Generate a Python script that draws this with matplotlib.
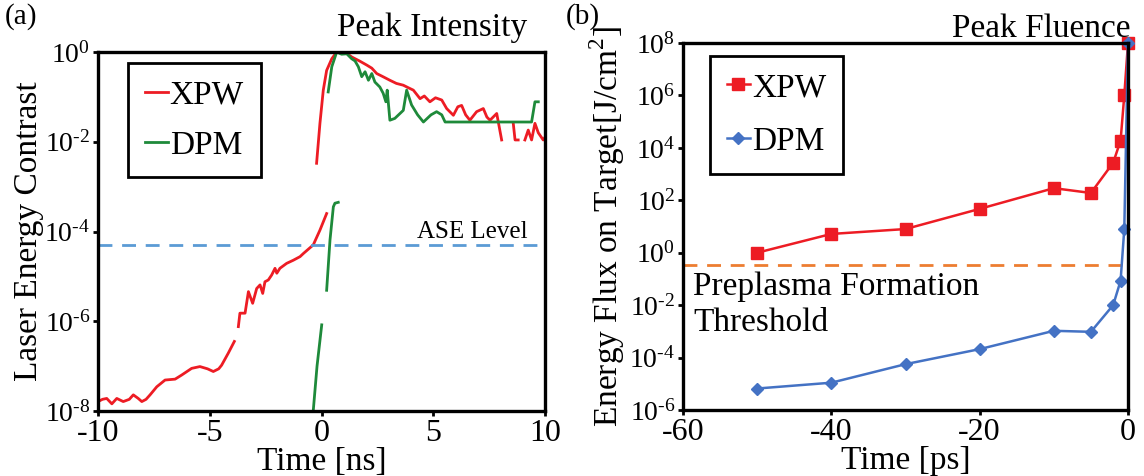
import numpy as np
import matplotlib
matplotlib.use('Agg')
import matplotlib.pyplot as plt
from matplotlib.ticker import NullLocator, FuncFormatter

plt.rcParams['font.family'] = 'Liberation Serif'
plt.rcParams['mathtext.fontset'] = 'custom'
plt.rcParams['mathtext.rm'] = 'Liberation Serif'
plt.rcParams['axes.unicode_minus'] = False

# (a) laser contrast, time in ns, values as log10(contrast); nan = gap in trace
xpw_t = [-10, -9.8, -9.61, -9.38, -9.16, -8.87, -8.6, -8.42, -8.2, -8.04, -7.85, -7.67,
         -7.37, -7.0, -6.55, -6.26, -5.81, -5.44, -5.1, -4.84, -4.6, -4.47, -4.17, -3.9,
         np.nan,
         -3.72, -3.65, -3.42, -3.27, -3.08, -2.90, -2.75, -2.63, -2.53, -2.38, -2.23, -2.08,
         -2.0, -1.86, -1.56, -1.26, -0.96, -0.81, -0.51, -0.37, -0.07, 0.23,
         np.nan,
         -0.22, -0.07, 0.08, 0.23, 0.46, 0.68, 1.05, 1.35, 1.7, 2.02, 2.25, 2.47, 2.75,
         3.06, 3.35, 3.66, 3.9, 4.11, 4.41, 4.6, 4.85, 5.1, 5.38, 5.6, 5.9, 6.1, 6.27,
         6.45, 6.64, 6.94, 7.24, 7.4, 7.54, 7.84, 8.06,
         np.nan,
         8.58, 8.66, 8.8,
         np.nan,
         9.1, 9.25, 9.4, 9.55, 9.7, 9.92, 10]
xpw_log = [-7.79, -7.74, -7.72, -7.84, -7.72, -7.79, -7.74, -7.64, -7.72, -7.79, -7.74, -7.64,
           -7.46, -7.31, -7.29, -7.20, -7.05, -7.01, -7.06, -7.12, -7.06, -6.98, -6.71, -6.45,
           np.nan,
           -6.12, -5.82, -5.82, -5.34, -5.60, -5.27, -5.19, -5.38, -5.12, -5.08, -4.97, -4.82,
           -4.93, -4.82, -4.71, -4.64, -4.56, -4.49, -4.36, -4.30, -3.97, -3.60,
           np.nan,
           -2.48, -1.59, -0.85, -0.41, -0.15, 0.0, 0.0, -0.11, -0.2, -0.29, -0.36, -0.48, -0.55,
           -0.63, -0.7, -0.74, -0.8, -0.85, -1.04, -0.98, -1.11, -1.02, -1.07, -1.26, -1.41, -1.22, -1.19,
           -1.4, -1.52, -1.33, -1.26, -1.45, -1.52, -1.37, -1.96,
           np.nan,
           -1.59, -1.96, -1.96,
           np.nan,
           -1.96, -1.74, -1.96, -1.59, -1.8, -1.96, -1.9]

dpm_t = [-0.37, -0.2, 0.01,
         np.nan,
         0.23, 0.38, 0.53, 0.6, 0.75,
         np.nan,
         0.30, 0.46, 0.68, 0.9, 1.13, 1.35, 1.5, 1.65, 1.8, 1.95, 2.10, 2.25, 2.39, 2.61,
         2.76, 2.88, 2.94, 3.06, 3.28, 3.66, 3.81, 4.03, 4.3, 4.56, 4.9, 5.15, 5.38, 5.53,
         9.4, 9.55, 9.7]
dpm_log = [-8.0, -7.0, -6.08,
           np.nan,
           -5.31, -4.19, -3.45, -3.37, -3.35,
           np.nan,
           -0.89, -0.33, 0.0, -0.05, -0.04, -0.15, -0.2, -0.33, -0.55, -0.44, -0.63, -0.48, -0.67, -0.78,
           -0.92, -1.11, -0.85, -1.52, -1.48, -1.3, -0.85, -1.18, -1.4, -1.56, -1.4, -1.33, -1.4, -1.56,
           -1.56, -1.11, -1.11]

ase_level = 5e-5

# (b) energy flux on target, time in ps
flux_t = [-50, -40, -30, -20, -10, -5, -2, -1, -0.5, 0]
xpw_flux = [1.0, 5.2, 8, 47, 290, 190, 2700, 1.9e4, 1e6, 1e8]
dpm_flux = [6.6e-6, 1.1e-5, 5.6e-5, 2.1e-4, 1.05e-3, 9.6e-4, 1e-2, 8.5e-2, 8, 1e8]
threshold = 0.35


def pow10(v, pos):
    # plain hyphen in the exponent, like the original figure
    e = str(int(round(np.log10(v)))).replace('-', '\u2010')
    return r'$\mathdefault{10^{%s}}$' % e


W, H = 1144, 476
fig = plt.figure(figsize=(W / 100, H / 100), dpi=100)
ax1 = fig.add_axes([98 / W, (H - 411) / H, 447 / W, 359 / H])
ax2 = fig.add_axes([683 / W, (H - 410) / H, 445 / W, 367 / H])

red = '#ed1c24'
green = '#1e8a3a'
blue = '#4472c4'

# panel (a)
ax1.plot(xpw_t, np.power(10.0, xpw_log), color=red, lw=2, label='XPW')
ax1.plot(dpm_t, np.power(10.0, dpm_log), color=green, lw=2, label='DPM')
ax1.axhline(ase_level, color='#5b9bd5', lw=2, dashes=(5, 3.5))
ax1.text(9.24, 7e-5, 'ASE Level', fontsize=18, ha='right', va='baseline')
ax1.set_yscale('log')
ax1.set_xlim(-10, 10)
ax1.set_ylim(1e-8, 1)
ax1.set_xticks([-10, -5, 0, 5, 10])
ax1.set_yticks([1e-8, 1e-6, 1e-4, 1e-2, 1])
ax1.set_xlabel('Time [ns]', fontsize=24, labelpad=-1)
ax1.set_ylabel('Laser Energy Contrast', fontsize=24, labelpad=0)
ax1.legend(loc='upper left', bbox_to_anchor=(0.067, 0.969), borderaxespad=0,
           fontsize=24, fancybox=False, edgecolor='black', framealpha=1,
           handlelength=0.7, handletextpad=0.05, borderpad=0.5, labelspacing=0.6)
ax1.get_legend().get_frame().set_linewidth(2)

# panel (b)
ax2.plot(flux_t, xpw_flux, color=red, lw=1.8, marker='s', ms=8.5, label='XPW', clip_on=False)
ax2.plot(flux_t, dpm_flux, color=blue, lw=1.8, marker='D', ms=6, label='DPM', clip_on=False)
ax2.axhline(threshold, color='#ed7d31', lw=2, dashes=(5, 3.5), zorder=1)
ax2.text(-58.65, 0.2, 'Preplasma Formation\nThreshold', fontsize=24, ha='left', va='top',
         linespacing=1.25)
ax2.set_yscale('log')
ax2.set_xlim(-60, 0)
ax2.set_ylim(1e-6, 1e8)
ax2.set_xticks([-60, -40, -20, 0])
ax2.set_yticks([1e-6, 1e-4, 1e-2, 1, 1e2, 1e4, 1e6, 1e8])
ax2.set_xlabel('Time [ps]', fontsize=24, labelpad=-1)
ax2.set_ylabel('Energy Flux on Target[J/cm$^2$]', fontsize=24, labelpad=2)
ax2.legend(loc='upper left', bbox_to_anchor=(0.061, 0.965), borderaxespad=0,
           fontsize=24, fancybox=False, edgecolor='black', framealpha=1, numpoints=1,
           handlelength=0.7, handletextpad=0.05, borderpad=0.5, labelspacing=0.7)
ax2.get_legend().get_frame().set_linewidth(2)

for ax in (ax1, ax2):
    ax.yaxis.set_minor_locator(NullLocator())
    ax.xaxis.set_minor_locator(NullLocator())
    ax.yaxis.set_major_formatter(FuncFormatter(pow10))
    for s in ax.spines.values():
        s.set_linewidth(2.4)
    ax.tick_params(axis='both', direction='out', length=3.5, width=2)
    ax.tick_params(axis='x', labelsize=23, pad=2)
    ax.tick_params(axis='y', labelsize=20, pad=2)

fig.text(5 / W, 1 - 3 / H, '(a)', fontsize=21, ha='left', va='top')
fig.text(566 / W, 1 - 3 / H, '(b)', fontsize=21, ha='left', va='top')
fig.text(527 / W, 1 - 36 / H, 'Peak Intensity', fontsize=24, ha='right', va='baseline')
fig.text(1130 / W, 1 - 37 / H, 'Peak Fluence', fontsize=24, ha='right', va='baseline')

fig.savefig('out.png', dpi=100)
